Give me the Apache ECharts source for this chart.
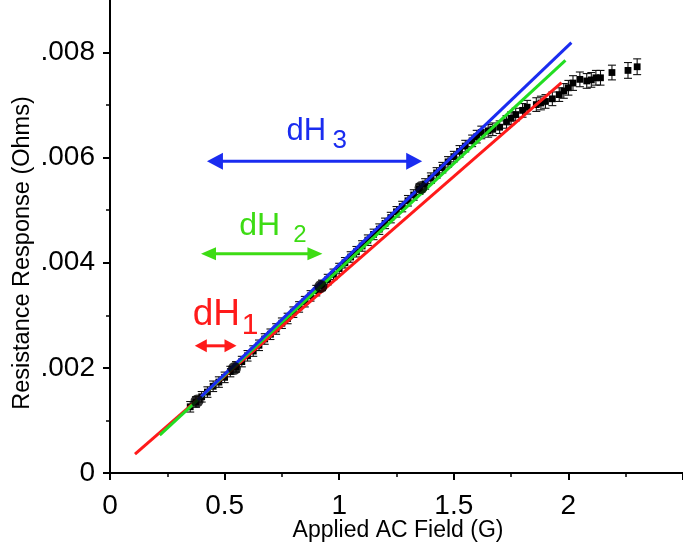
<!DOCTYPE html>
<html><head><meta charset="utf-8">
<script src="https://cdn.jsdelivr.net/npm/echarts@6/dist/echarts.min.js"></script>
<style>html,body{margin:0;padding:0;background:#fff}#c{width:683px;height:550px}</style>
</head><body><div id="c"></div>
<script>
// ---------- data ----------
const xTicks = [0, 0.5, 1, 1.5, 2];
const xTickLabels = ['0', '0.5', '1', '1.5', '2'];
const yTicks = [0, 0.002, 0.004, 0.006, 0.008];
const yTickLabels = ['0', '.002', '.004', '.006', '.008'];
const yMinorTicks = [0.001, 0.003, 0.005, 0.007];

const appliedField = [
  0.35, 0.375, 0.40, 0.425, 0.45, 0.475, 0.50, 0.525, 0.55, 0.575,
  0.60, 0.625, 0.65, 0.675, 0.70, 0.725, 0.75, 0.775, 0.80, 0.825,
  0.85, 0.875, 0.90, 0.925, 0.95, 0.975, 1.00, 1.025, 1.05, 1.075,
  1.10, 1.125, 1.15, 1.175, 1.20, 1.225, 1.25, 1.275, 1.30, 1.325,
  1.35, 1.375, 1.40, 1.425, 1.45, 1.475, 1.50, 1.525, 1.55, 1.58,
  1.60, 1.62, 1.65, 1.67, 1.70, 1.73, 1.75, 1.77, 1.80, 1.82,
  1.86, 1.88, 1.90, 1.93, 1.96, 1.98, 2.00, 2.02, 2.05, 2.08,
  2.10, 2.12, 2.14, 2.19, 2.26, 2.30
];
const resistance = [
  0.00126, 0.00135, 0.00145, 0.00154, 0.00165, 0.00173, 0.00182, 0.00193, 0.00202, 0.00212,
  0.00223, 0.00232, 0.00243, 0.00255, 0.00264, 0.00274, 0.00285, 0.00294, 0.00306, 0.00316,
  0.00326, 0.00337, 0.00347, 0.00357, 0.00368, 0.00378, 0.00389, 0.00400, 0.00411, 0.00421,
  0.00432, 0.00443, 0.00454, 0.00464, 0.00475, 0.00486, 0.00497, 0.00507, 0.00518, 0.00529,
  0.00540, 0.00550, 0.00561, 0.00571, 0.00581, 0.00592, 0.00602, 0.00612, 0.00622, 0.00632,
  0.00640, 0.00648, 0.00651, 0.00654, 0.00658, 0.00668, 0.00675, 0.00682, 0.00690, 0.00696,
  0.00701, 0.00704, 0.00707, 0.00712, 0.00720, 0.00727, 0.00733, 0.00742, 0.00749, 0.00746,
  0.00748, 0.00752, 0.00752, 0.00762, 0.00766, 0.00773
];
const resistanceErr = [
  0.0001, 0.0001, 0.0001, 0.0001, 0.0001, 0.0001, 0.0001, 0.0001, 0.0001, 0.0001,
  0.0001, 0.0001, 0.0001, 0.0001, 0.0001, 0.0001, 0.0001, 0.0001, 0.0001, 0.0001,
  0.0001, 0.0001, 0.0001, 0.0001, 0.0001, 0.0001, 0.0001, 0.0001, 0.0001, 0.0001,
  0.0001, 0.0001, 0.0001, 0.0001, 0.0001, 0.0001, 0.0001, 0.0001, 0.0001, 0.0001,
  0.0001, 0.0001, 0.0001, 0.0001, 0.0001, 0.0001, 0.0001, 0.00011, 0.00011, 0.00011,
  0.00012, 0.00012, 0.00012, 0.00012, 0.00012, 0.00012, 0.00012, 0.00012, 0.00013, 0.00013,
  0.00013, 0.00013, 0.00013, 0.00013, 0.00013, 0.00014, 0.00014, 0.00014, 0.00014, 0.00014,
  0.00014, 0.00014, 0.00014, 0.00014, 0.00015, 0.00015
];

const keyField = [0.38, 0.543, 0.92, 1.357];
const keyResistance = [0.00137, 0.00199, 0.00355, 0.00543];

const fitRedField = [0.109, 1.97];
const fitRedR = [0.00036, 0.00743];
const fitGreenField = [0.217, 1.987];
const fitGreenR = [0.00072, 0.00785];
const fitBlueField = [0.383, 2.013];
const fitBlueR = [0.00139, 0.00819];

const arrowFrom = [0.37, 0.397, 0.423];
const arrowTo = [0.552, 0.927, 1.362];
const arrowLevel = [0.00242, 0.00417, 0.00593];
const arrowText = ['dH', 'dH', 'dH'];
const arrowSub = ['1', '2', '3'];

// ---------- styles ----------
const FONT = '"Liberation Sans", Arial, Helvetica, sans-serif';
const arrowStyles = [
  {color: '#ff1a1a', head: 12, half: 6.5, lw: 3, font: 37, subFont: 30, dx: -23, dy: -31, sdx: 26, sdy: -20},
  {color: '#3ddc14', head: 15, half: 6.5, lw: 3, font: 32, subFont: 24, dx: -22.5, dy: -28, sdx: 31.5, sdy: -18},
  {color: '#1a2cf0', head: 16, half: 8.5, lw: 3, font: 31, subFont: 26, dx: -28, dy: -29.5, sdx: 18, sdy: -20.5}
];

const pts = appliedField.map((x, i) => [x, resistance[i], resistanceErr[i]]);
const pair = (xs, ys) => xs.map((x, i) => [x, ys[i]]);

function lookup(vals, labels, v) {
  for (let i = 0; i < vals.length; i++) if (Math.abs(vals[i] - v) < 1e-9) return labels[i];
  return '';
}

const arrowSeries = arrowFrom.map((f, i) => {
  const st = arrowStyles[i];
  return {
    type: 'custom', z: 20, silent: true, clip: false,
    data: [[f, arrowTo[i], arrowLevel[i]]],
    renderItem: function (params, api) {
      const a = api.coord([api.value(0), api.value(2)]);
      const b = api.coord([api.value(1), api.value(2)]);
      const y = a[1], x1 = a[0], x2 = b[0], cx = (x1 + x2) / 2;
      return {
        type: 'group',
        children: [
          {type: 'line', shape: {x1: x1 + st.head * 0.6, y1: y, x2: x2 - st.head * 0.6, y2: y},
           style: {stroke: st.color, lineWidth: st.lw}},
          {type: 'polygon', shape: {points: [[x1, y], [x1 + st.head, y - st.half], [x1 + st.head, y + st.half]]},
           style: {fill: st.color}},
          {type: 'polygon', shape: {points: [[x2, y], [x2 - st.head, y - st.half], [x2 - st.head, y + st.half]]},
           style: {fill: st.color}},
          {type: 'text', x: cx + st.dx, y: y + st.dy,
           style: {text: arrowText[i], fill: st.color, fontSize: st.font, fontFamily: FONT,
                   align: 'left', verticalAlign: 'middle'}},
          {type: 'text', x: cx + st.sdx, y: y + st.sdy,
           style: {text: arrowSub[i], fill: st.color, fontSize: st.subFont, fontFamily: FONT,
                   align: 'left', verticalAlign: 'middle'}}
        ]
      };
    }
  };
});

const chart = echarts.init(document.getElementById('c'), null, {renderer: 'canvas'});
chart.setOption({
  animation: false,
  backgroundColor: '#fff',
  grid: {left: 110, right: -2, top: 0, bottom: 77, containLabel: false},
  xAxis: {
    type: 'value', min: 0, max: 2.5, interval: 0.5,
    axisLine: {show: true, lineStyle: {color: '#000', width: 2}},
    axisTick: {show: true, length: 7, lineStyle: {color: '#000', width: 2}},
    minorTick: {show: true, splitNumber: 2, length: 4, lineStyle: {color: '#000', width: 1.5}},
    splitLine: {show: false},
    axisLabel: {color: '#000', fontSize: 28, fontFamily: FONT, margin: 19, showMaxLabel: false,
      formatter: v => lookup(xTicks, xTickLabels, v)}
  },
  yAxis: [{
    type: 'value', min: 0, max: 0.009,
    axisLine: {show: true, lineStyle: {color: '#000', width: 2}},
    axisTick: {show: true, length: 7, customValues: yTicks, lineStyle: {color: '#000', width: 2}},
    splitLine: {show: false},
    axisLabel: {color: '#000', fontSize: 28, fontFamily: FONT, margin: 15, customValues: yTicks,
      formatter: v => lookup(yTicks, yTickLabels, v)}
  }, {
    type: 'value', min: 0, max: 0.009, position: 'left',
    axisLine: {show: false},
    axisTick: {show: true, length: 4, customValues: yMinorTicks, lineStyle: {color: '#000', width: 1.5}},
    axisLabel: {show: false},
    splitLine: {show: false}
  }],
  graphic: [
    {type: 'text', x: 398, y: 531, silent: true,
     style: {text: 'Applied AC Field (G)', fontSize: 23, fontFamily: FONT, fill: '#000', align: 'center', verticalAlign: 'middle'}},
    {type: 'text', x: 23, y: 253, rotation: Math.PI / 2, silent: true,
     style: {text: 'Resistance Response (Ohms)', fontSize: 23.5, fontFamily: FONT, fill: '#000', align: 'center', verticalAlign: 'middle'}}
  ],
  series: [
    {
      type: 'custom', name: 'data', z: 2, silent: true,
      data: pts,
      renderItem: function (params, api) {
        const x = api.value(0), y = api.value(1), e = api.value(2);
        const c = api.coord([x, y]);
        const t = api.coord([x, y + e]);
        const b = api.coord([x, y - e]);
        const hw = 4, s = 3.4;
        const ls = {stroke: '#111', lineWidth: 1.1};
        return {type: 'group', children: [
          {type: 'line', shape: {x1: c[0], y1: t[1], x2: c[0], y2: b[1]}, style: ls},
          {type: 'line', shape: {x1: c[0] - hw, y1: t[1], x2: c[0] + hw, y2: t[1]}, style: ls},
          {type: 'line', shape: {x1: c[0] - hw, y1: b[1], x2: c[0] + hw, y2: b[1]}, style: ls},
          {type: 'rect', shape: {x: c[0] - s, y: c[1] - s, width: 2 * s, height: 2 * s}, style: {fill: '#000'}}
        ]};
      }
    },
    {type: 'line', name: 'fit1', z: 5, data: pair(fitRedField, fitRedR), symbol: 'none', silent: true,
     lineStyle: {color: '#ff1a1a', width: 3}},
    {type: 'line', name: 'fit2', z: 6, data: pair(fitGreenField, fitGreenR), symbol: 'none', silent: true,
     lineStyle: {color: '#22dd22', width: 3}},
    {type: 'line', name: 'fit3', z: 7, data: pair(fitBlueField, fitBlueR), symbol: 'none', silent: true,
     lineStyle: {color: '#1a2cf0', width: 3}},
    {type: 'scatter', name: 'key', z: 10, data: pair(keyField, keyResistance), symbol: 'circle', symbolSize: 13,
     silent: true, itemStyle: {color: '#000'}}
  ].concat(arrowSeries)
});
</script>
</body></html>
